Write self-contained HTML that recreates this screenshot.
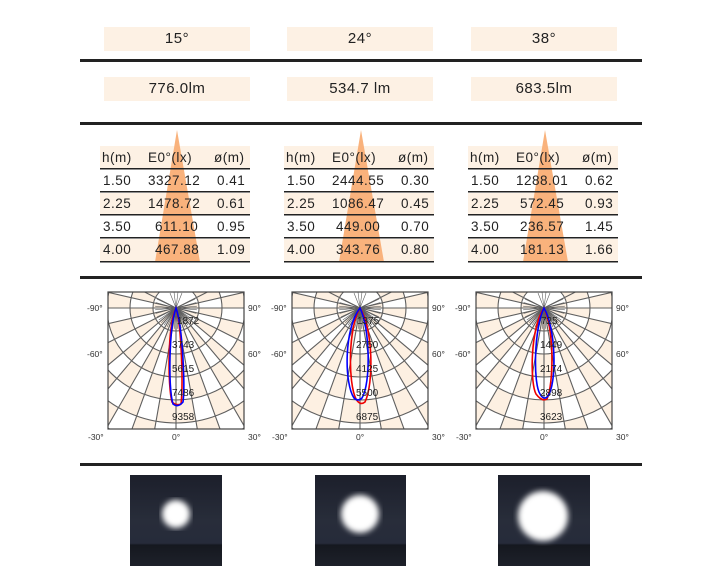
<!DOCTYPE html>
<html><head><meta charset="utf-8"><style>
body{margin:0;width:727px;height:585px;background:#fff;font-family:"Liberation Sans",sans-serif;position:relative;overflow:hidden}
.hl{position:absolute;left:80px;width:562px;height:3px;background:#222}
.box{position:absolute;background:#fdf1e4;height:24px;width:146px;text-align:center;line-height:24px;font-size:15px;color:#222;letter-spacing:0.5px}
.pc{position:absolute;top:292px;width:136px;height:137px;background:#fff;overflow:hidden}
.pc div{position:absolute;left:0;top:0;width:136px;height:137px}
.la{background:conic-gradient(from 0deg at 68px 16px,#fff 0 77deg,#fdf0e2 77deg 90deg,#fff 90deg 103deg,#fdf0e2 103deg 117deg,#fff 117deg 130deg,#fdf0e2 130deg 140deg,#fff 140deg 150deg,#fdf0e2 150deg 160deg,#fff 160deg 170deg,#fdf0e2 170deg 190deg,#fff 190deg 200deg,#fdf0e2 200deg 210deg,#fff 210deg 220deg,#fdf0e2 220deg 230deg,#fff 230deg 243deg,#fdf0e2 243deg 257deg,#fff 257deg 270deg,#fdf0e2 270deg 283deg,#fff 283deg 360deg);
-webkit-mask-image:repeating-radial-gradient(circle at 68px 16px,#000 0 23px,transparent 23px 46px);mask-image:repeating-radial-gradient(circle at 68px 16px,#000 0 23px,transparent 23px 46px)}
.lb{background:conic-gradient(from 0deg at 68px 16px,#fdf0e2 0 77deg,#fff 77deg 90deg,#fdf0e2 90deg 103deg,#fff 103deg 117deg,#fdf0e2 117deg 130deg,#fff 130deg 140deg,#fdf0e2 140deg 150deg,#fff 150deg 160deg,#fdf0e2 160deg 170deg,#fff 170deg 190deg,#fdf0e2 190deg 200deg,#fff 200deg 210deg,#fdf0e2 210deg 220deg,#fff 220deg 230deg,#fdf0e2 230deg 243deg,#fff 243deg 257deg,#fdf0e2 257deg 270deg,#fff 270deg 283deg,#fdf0e2 283deg 360deg);
-webkit-mask-image:repeating-radial-gradient(circle at 68px 16px,transparent 0 23px,#000 23px 46px);mask-image:repeating-radial-gradient(circle at 68px 16px,transparent 0 23px,#000 23px 46px)}
svg{position:absolute;left:0;top:0}
</style></head><body>
<div class="box" style="left:104px;top:27px">15°</div>
<div class="box" style="left:287px;top:27px">24°</div>
<div class="box" style="left:471px;top:27px">38°</div>
<div class="hl" style="top:59px"></div>
<div class="box" style="left:104px;top:77px">776.0lm</div>
<div class="box" style="left:287px;top:77px">534.7 lm</div>
<div class="box" style="left:471px;top:77px">683.5lm</div>
<div class="hl" style="top:122px"></div>
<div class="hl" style="top:276px"></div>
<div class="hl" style="top:463px"></div>
<div class="pc" style="left:108px"><div class="la"></div><div class="lb"></div></div>
<div class="pc" style="left:292px"><div class="la"></div><div class="lb"></div></div>
<div class="pc" style="left:476px"><div class="la"></div><div class="lb"></div></div>
<svg width="727" height="585" font-family="Liberation Sans, sans-serif" font-size="13.5" fill="#222" letter-spacing="0.5">
<defs>
<g id="tb">
 <rect x="0" y="146" width="150" height="22" fill="#fdf1e4"/>
 <rect x="0" y="193" width="150" height="22" fill="#fdf1e4"/>
 <rect x="0" y="239" width="150" height="22" fill="#fdf1e4"/>
 <polygon points="77,130 55,262 100,262" fill="#f9b27c"/>
 <g fill="#222">
 <rect x="0" y="168" width="150" height="1.5"/>
 <rect x="0" y="191" width="150" height="1.5"/>
 <rect x="0" y="214" width="150" height="1.5"/>
 <rect x="0" y="237" width="150" height="1.5"/>
 <rect x="0" y="261" width="150" height="1.5"/>
 </g>
</g>
<clipPath id="cp"><rect x="-68" y="-16" width="136" height="137"/></clipPath>
<g id="pg">
 <g clip-path="url(#cp)" fill="none" stroke="#5f5f5f" stroke-width="1.1">
 <circle r="23"/><circle r="46"/><circle r="69"/><circle r="92"/><circle r="115"/><circle r="138"/><circle r="161"/>
 <path d="M-200,0H200 M0,0 L0,200 M0,0L34.7,197 M0,0L68.4,188 M0,0L100,173 M0,0L128.6,153 M0,0L153,128.6 M0,0L178.2,90.8 M0,0L194.9,45 M0,0L194.9,-45 M0,0L178.2,-90.8 M0,0L-34.7,197 M0,0L-68.4,188 M0,0L-100,173 M0,0L-128.6,153 M0,0L-153,128.6 M0,0L-178.2,90.8 M0,0L-194.9,45 M0,0L-194.9,-45 M0,0L-178.2,-90.8"/>
 <path stroke-width="0.6" d="M0,0L1.8,20.9 M0,0L5.4,20.3 M0,0L8.9,19 M0,0L12,17.2 M0,0L14.8,14.8 M0,0L17.2,12 M0,0L19,8.9 M0,0L20.3,5.4 M0,0L20.9,1.8 M0,0L-1.8,20.9 M0,0L-5.4,20.3 M0,0L-8.9,19 M0,0L-12,17.2 M0,0L-14.8,14.8 M0,0L-17.2,12 M0,0L-19,8.9 M0,0L-20.3,5.4 M0,0L-20.9,1.8 M0,0L20.9,-1.8 M0,0L-20.9,-1.8 M0,0L20.3,-5.4 M0,0L-20.3,-5.4 M0,0L19,-8.9 M0,0L-19,-8.9 M0,0L6,-15 M0,0L-6,-15 M0,0L2,-16 M0,0L-2,-16"/>
 </g>
 <rect x="-68" y="-16" width="136" height="137" fill="none" stroke="#444" stroke-width="1.2"/>
 <g font-size="8.5" fill="#333" letter-spacing="0">
 <text x="-89" y="3">-90°</text><text x="-89" y="49">-60°</text><text x="-88" y="132">-30°</text>
 <text x="72" y="3">90°</text><text x="72" y="49">60°</text><text x="72" y="132">30°</text>
 <text x="-4" y="132">0°</text>
 </g>
</g>
</defs>
<g transform="translate(100,0)"><use href="#tb"/></g>
<g transform="translate(284,0)"><use href="#tb"/></g>
<g transform="translate(468,0)"><use href="#tb"/></g>
<g>
<text x="102" y="162">h(m)</text><text x="148" y="162">E0°(lx)</text><text x="214" y="162">ø(m)</text>
<text x="103" y="185">1.50</text><text x="148" y="185">3327.12</text><text x="217" y="185">0.41</text>
<text x="103" y="208">2.25</text><text x="148" y="208">1478.72</text><text x="217" y="208">0.61</text>
<text x="103" y="231">3.50</text><text x="155" y="231">611.10</text><text x="217" y="231">0.95</text>
<text x="103" y="254">4.00</text><text x="155" y="254">467.88</text><text x="217" y="254">1.09</text>

<text x="286" y="162">h(m)</text><text x="332" y="162">E0°(lx)</text><text x="398" y="162">ø(m)</text>
<text x="287" y="185">1.50</text><text x="332" y="185">2444.55</text><text x="401" y="185">0.30</text>
<text x="287" y="208">2.25</text><text x="332" y="208">1086.47</text><text x="401" y="208">0.45</text>
<text x="287" y="231">3.50</text><text x="336" y="231">449.00</text><text x="401" y="231">0.70</text>
<text x="287" y="254">4.00</text><text x="336" y="254">343.76</text><text x="401" y="254">0.80</text>

<text x="470" y="162">h(m)</text><text x="516" y="162">E0°(lx)</text><text x="582" y="162">ø(m)</text>
<text x="471" y="185">1.50</text><text x="516" y="185">1288.01</text><text x="585" y="185">0.62</text>
<text x="471" y="208">2.25</text><text x="520" y="208">572.45</text><text x="585" y="208">0.93</text>
<text x="471" y="231">3.50</text><text x="520" y="231">236.57</text><text x="585" y="231">1.45</text>
<text x="471" y="254">4.00</text><text x="520" y="254">181.13</text><text x="585" y="254">1.66</text>
</g>
<g letter-spacing="0">
<g transform="translate(176,308)"><use href="#pg"/>
 <path d="M0,0 C-9,20 -8,80 -4,94 Q0,98 5,96 C7,80 6,20 0,0Z" fill="none" stroke="#e00" stroke-width="1.6"/>
 <path d="M0,0 C-7,20 -8,80 -3,96 Q2,100 7,94 C9,80 7,20 0,0Z" fill="none" stroke="#00f" stroke-width="1.6"/>
 <g font-size="10"><text x="1" y="16">1872</text><text x="-4" y="40">3743</text><text x="-4" y="64">5615</text><text x="-4" y="88">7486</text><text x="-4" y="112">9358</text></g>
</g>
<g transform="translate(360,308)"><use href="#pg"/>
 <path d="M0,0 C-12,20 -12,75 -4,91 Q0,98 5,94 C14,75 13,20 0,0Z" fill="none" stroke="#e00" stroke-width="1.6"/>
 <path d="M0,0 C-16,20 -16,75 -6,90 Q-2,94 2,90 C11,75 10,20 0,0Z" fill="none" stroke="#00f" stroke-width="1.6"/>
 <g font-size="10"><text x="-3" y="16">1375</text><text x="-4" y="40">2750</text><text x="-4" y="64">4125</text><text x="-4" y="88">5500</text><text x="-4" y="112">6875</text></g>
</g>
<g transform="translate(544,308)"><use href="#pg"/>
 <path d="M0,0 C-14,20 -14,75 -8,86 Q-2,94 3,91 C10,75 10,20 0,0Z" fill="none" stroke="#e00" stroke-width="1.6"/>
 <path d="M0,0 C-10,20 -11,75 -4,86 Q0,93 4,88 C13,75 12,20 0,0Z" fill="none" stroke="#00f" stroke-width="1.6"/>
 <g font-size="10"><text x="-3" y="16">725</text><text x="-4" y="40">1449</text><text x="-4" y="64">2174</text><text x="-4" y="88">2898</text><text x="-4" y="112">3623</text></g>
</g>
</g>
<defs>
<filter id="bl"><feGaussianBlur stdDeviation="3"/></filter>
<linearGradient id="bg" x1="0" y1="0" x2="0" y2="1"><stop offset="0" stop-color="#1c1f2b"/><stop offset="0.5" stop-color="#282d3a"/><stop offset="0.75" stop-color="#262b3a"/><stop offset="0.77" stop-color="#15181f"/><stop offset="1" stop-color="#1e212a"/></linearGradient>
</defs>
<rect x="130" y="475" width="92" height="91" fill="url(#bg)"/>
<circle cx="176" cy="514" r="14" fill="#fff" filter="url(#bl)"/>
<rect x="315" y="475" width="91" height="91" fill="url(#bg)"/>
<circle cx="360" cy="514" r="19" fill="#fff" filter="url(#bl)"/>
<rect x="498" y="475" width="92" height="91" fill="url(#bg)"/>
<circle cx="543" cy="516" r="25" fill="#fff" filter="url(#bl)"/>
</svg>
</body></html>
